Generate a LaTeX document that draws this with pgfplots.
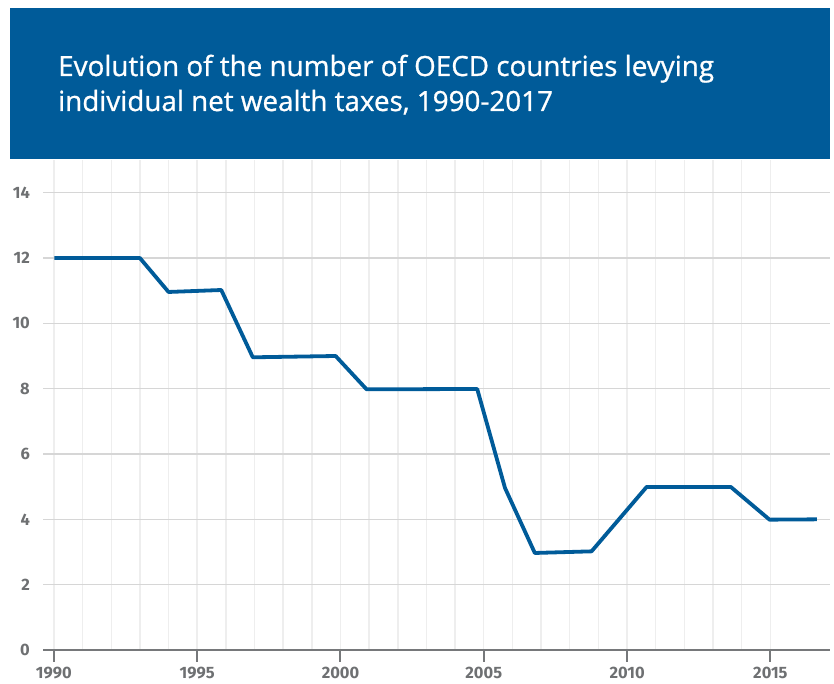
\documentclass[border=0pt]{standalone}
\usepackage{fontspec}
\setmainfont{Fira Sans}
\newfontfamily\titlefont[FakeBold=0.9]{Open Sans}
\usepackage{pgfplots}
\pgfplotsset{compat=1.18}
\definecolor{oecdblue}{RGB}{0,91,153}
\definecolor{axisgrey}{RGB}{118,120,122}
\definecolor{labgrey}{RGB}{110,112,114}
\definecolor{hgrid}{RGB}{214,214,214}
\definecolor{vgrid}{RGB}{238,238,238}
\begin{document}
\begin{tikzpicture}
\useasboundingbox (-43bp,-34bp) rectangle (791bp,650bp);
\fill[oecdblue] (-33bp,491bp) rectangle (787bp,642bp);
\node[anchor=base west, inner sep=0pt, text=white, font=\titlefont\fontsize{27.8bp}{30bp}\selectfont] at (15bp,574bp) {Evolution of the number of OECD countries levying};
\node[anchor=base west, inner sep=0pt, text=white, font=\titlefont\fontsize{27.8bp}{30bp}\selectfont] at (15bp,539bp) {individual net wealth taxes, 1990-2017};
\begin{axis}[
  at={(0,0)}, anchor=south west,
  scale only axis, width=787bp, height=490bp,
  xmin=1989.62, xmax=2017.08, ymin=0, ymax=15,
  axis line style={draw=none},
  xtick={1990,1995,...,2015},
  minor xtick={1990,1991,...,2015},
  ytick={0,2,...,14},
  xtick pos=bottom, ytick pos=left,
  tick align=outside,
  major tick length=12bp, minor tick length=0bp,
  xtick style={draw=axisgrey, line width=2bp},
  ytick style={draw=none},
  xminorgrids=true, xmajorgrids=false, ymajorgrids=true,
  minor grid style={draw=vgrid, line width=1.4bp},
  major grid style={draw=hgrid, line width=1.4bp},
  /pgf/number format/assume math mode=true,
  /pgf/number format/1000 sep={},
  tick label style={font=\fontsize{16.5bp}{18bp}\selectfont\bfseries, text=labgrey},
  xticklabel style={inner sep=0pt, anchor=north, yshift=-5bp},
  yticklabel style={inner sep=0pt, anchor=east, xshift=-1bp},
  clip=false,
]
\draw[axisgrey, line width=2.2bp] (rel axis cs:0,0) -- (rel axis cs:1,0);
\addplot[color=oecdblue, line width=3.8bp, line join=round] coordinates {
(1990.02,12) (1993.0,12) (1994.0,10.96) (1995.84,11.02) (1996.94,8.96)
(1999.83,9.0) (2000.91,7.98) (2004.77,7.99) (2005.74,4.96) (2006.78,2.97)
(2008.76,3.02) (2010.68,4.99) (2013.62,4.99) (2014.97,3.99) (2016.62,4.0)
};
\end{axis}
\end{tikzpicture}
\end{document}
